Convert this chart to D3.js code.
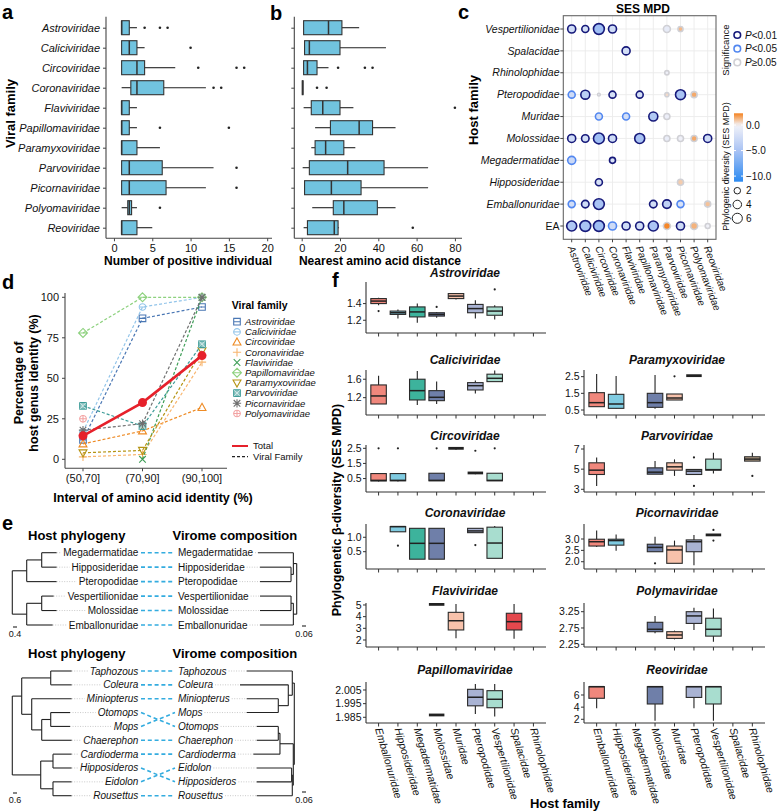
<!DOCTYPE html>
<html>
<head>
<meta charset="utf-8">
<script src="https://cdn.jsdelivr.net/npm/d3@7"></script>
<style>
html,body{margin:0;padding:0;background:#fff;}
svg{display:block;font-family:"Liberation Sans",Arial,Helvetica,sans-serif;}
</style>
</head>
<body>
<svg id="fig" width="778" height="811"></svg>
<script>
// ======================= DATA =======================
const viralFamilies=["Astroviridae","Caliciviridae","Circoviridae","Coronaviridae","Flaviviridae","Papillomaviridae","Paramyxoviridae","Parvoviridae","Picornaviridae","Polyomaviridae","Reoviridae"];

// panel a : [q1, median, q3, lower whisker, upper whisker]
const positiveBoxes=[[1,1,2,1,3],[1,2,3,1,4],[1,3,4,1,8],[2.2,3,6.5,1,12],[1,1,2,1,3],[1,1,2,1,3],[1,1,3,1,6],[1,2,6.3,1,13],[1,2,6.8,1,12],[1.8,2,2.3,1,3],[1,1,3,1,5]];
const positiveOutliers=[[4,6,7],[10],[11,16,17],[13,14],[],[6,15],[],[16],[16],[6],[]];
const positiveTicks=[0,5,10,15,20];

// panel b
const distanceBoxes=[[1,14,21,1,30],[1.5,4,20,1.5,44],[1,3,8,1,14],[0.3,0.5,0.7,0.3,0.7],[5,11,20,1,27],[15,30,37,7,49],[7,12.5,22,5,28],[4,24,43,0.5,66],[1.5,15.5,31,1.5,66],[16.5,22,39.5,5.5,49],[3,17,19,1,19.5]];
const distanceOutliers=[[],[],[19,33,37],[8,13],[80],[],[],[],[],[],[58]];
const distanceTicks=[0,20,40,60,80];

// panel c : [host, virus, SES MPD, significance (0:P<0.01, 1:P<0.05, 2:P>=0.05), size]
const hostRows=["Vespertilionidae","Spalacidae","Rhinolophidae","Pteropodidae","Muridae","Molossidae","Megadermatidae","Hipposideridae","Emballonuridae","EA"];
const sesPoints=[
 ["Vespertilionidae","Astroviridae",-2.5,0,3.4],["Vespertilionidae","Caliciviridae",-2.0,0,2.4],["Vespertilionidae","Circoviridae",-5.5,0,7],["Vespertilionidae","Coronaviridae",-2.5,0,3.4],["Vespertilionidae","Parvoviridae",-0.8,2,2.4],["Vespertilionidae","Picornaviridae",1.2,2,1.0],
 ["Spalacidae","Flaviviridae",-2.2,0,3.4],
 ["Rhinolophidae","Parvoviridae",-0.3,2,0.6],
 ["Pteropodidae","Astroviridae",-2.5,1,2.4],["Pteropodidae","Caliciviridae",-3.8,0,4.5],["Pteropodidae","Circoviridae",-0.2,2,0.1],["Pteropodidae","Coronaviridae",-2.0,0,2.4],["Pteropodidae","Papillomaviridae",-2.0,0,2.4],["Pteropodidae","Parvoviridae",0.5,2,0.5],["Pteropodidae","Picornaviridae",-5.0,0,5.8],["Pteropodidae","Polyomaviridae",1.5,2,1.6],
 ["Muridae","Circoviridae",-2.2,1,2.4],["Muridae","Flaviviridae",-2.2,1,2.4],["Muridae","Paramyxoviridae",-4.5,0,4.5],["Muridae","Parvoviridae",-0.5,2,1.6],
 ["Molossidae","Astroviridae",-2.5,0,3.4],["Molossidae","Caliciviridae",-2.2,0,2.9],["Molossidae","Circoviridae",-5.5,0,7],["Molossidae","Coronaviridae",-2.5,0,3.4],["Molossidae","Papillomaviridae",-5.0,0,5.8],["Molossidae","Parvoviridae",-0.6,2,1.6],["Molossidae","Picornaviridae",-0.3,2,1.6],["Molossidae","Polyomaviridae",1.5,2,1.6],["Molossidae","Reoviridae",-2.5,0,3.4],
 ["Megadermatidae","Astroviridae",-2.8,1,3.4],["Megadermatidae","Coronaviridae",-1.8,0,1.6],
 ["Hipposideridae","Circoviridae",-2.0,0,2.4],["Hipposideridae","Picornaviridae",0.8,2,1.6],
 ["Emballonuridae","Astroviridae",-2.3,1,2.4],["Emballonuridae","Caliciviridae",-2.5,0,2.9],["Emballonuridae","Circoviridae",-5.0,0,7],["Emballonuridae","Paramyxoviridae",-2.3,0,2.9],["Emballonuridae","Parvoviridae",-3.5,0,4.0],["Emballonuridae","Picornaviridae",-1.8,1,2.4],["Emballonuridae","Reoviridae",1.0,2,1.6],
 ["EA","Astroviridae",-4.5,0,5.8],["EA","Caliciviridae",-5.0,0,7],["EA","Circoviridae",-5.5,0,7],["EA","Coronaviridae",-2.5,1,3.4],["EA","Flaviviridae",-2.5,0,3.4],["EA","Papillomaviridae",-2.3,0,3.4],["EA","Paramyxoviridae",-4.8,0,5.8],["EA","Parvoviridae",2.2,2,2.4],["EA","Picornaviridae",-2.5,0,3.4],["EA","Polyomaviridae",1.3,2,2.4],["EA","Reoviridae",-0.2,2,0.9]
];
const sigLabels=["<0.01","<0.05","\u22650.05"];
const sizeLegend=[2,4,6];
const sesTicks=[0,-5,-10];

// panel d
const intervals=["(50,70]","(70,90]","(90,100]"];
const dFamilies=viralFamilies.slice(0,10);
const hostGenusIdentity=[[12,87,94],[17,94,100],[9.5,17.5,32],[1.5,3,60],[null,0,100],[78,100,100],[4,5.5,67],[33,20.5,71],[18,22,100],[25,null,null]];
const totalIdentity=[14.5,35,64];
const dTicks=[0,25,50,75,100];

// panel e : trees (branch lengths in tree units)
const hostOrderFamilies=["Megadermatidae","Hipposideridae","Pteropodidae","Vespertilionidae","Molossidae","Emballonuridae"];
const viromeOrderFamilies=["Megadermatidae","Hipposideridae","Pteropodidae","Vespertilionidae","Molossidae","Emballonuridae"];
const hostOrderGenera=["Taphozous","Coleura","Miniopterus","Otomops","Mops","Chaerephon","Cardioderma","Hipposideros","Eidolon","Rousettus"];
const viromeOrderGenera=["Taphozous","Coleura","Miniopterus","Mops","Otomops","Chaerephon","Cardioderma","Eidolon","Hipposideros","Rousettus"];
const hostTreeFamilies={children:[
 {len:1.44,children:[{len:1.5,children:[{name:"Megadermatidae",len:1.5},{name:"Hipposideridae",len:1.5}]},{name:"Pteropodidae",len:3.0}]},
 {len:1.44,children:[{len:1.5,children:[{name:"Vespertilionidae",len:1.2},{name:"Molossidae",len:1.5}]},{name:"Emballonuridae",len:2.6}]}]};
const viromeTreeFamilies={children:[
 {len:0.05,children:[{name:"Megadermatidae",len:0.53},{len:0.035,children:[{name:"Hipposideridae",len:0.465},{name:"Pteropodidae",len:0.465}]}]},
 {len:0.05,children:[{len:0.035,children:[{name:"Vespertilionidae",len:0.465},{name:"Molossidae",len:0.465}]},{name:"Emballonuridae",len:0.5}]}]};
const hostTreeGenera={children:[
 {len:1.41,children:[
   {len:4.35,children:[{name:"Taphozous",len:3.15},{name:"Coleura",len:3.15}]},
   {len:1.5,children:[{name:"Miniopterus",len:6.0},{len:1.5,children:[{len:1.35,children:[{name:"Otomops",len:2.9},{name:"Mops",len:2.9}]},{name:"Chaerephon",len:4.5}]}]}]},
 {len:4.26,children:[
   {len:1.84,children:[{name:"Cardioderma",len:2.8},{name:"Hipposideros",len:2.8}]},
   {len:1.84,children:[{name:"Eidolon",len:2.8},{name:"Rousettus",len:2.8}]}]}]};
const viromeTreeGenera={children:[
 {len:0.03,children:[{name:"Taphozous",len:0.684},{len:0.06,children:[{name:"Coleura",len:0.724},{len:0.15,children:[{name:"Miniopterus",len:0.474},{name:"Mops",len:0.474}]}]}]},
 {len:0.015,children:[
   {len:0.2,children:[{len:0.025,children:[{name:"Otomops",len:0.324},{name:"Chaerephon",len:0.324}]},{name:"Cardioderma",len:0.4}]},
   {len:0.015,children:[{len:0.01,children:[{name:"Eidolon",len:0.525},{name:"Hipposideros",len:0.525}]},{name:"Rousettus",len:0.534}]}]}]};

// panel f : [host index, q1, median, q3, lower, upper, outliers]
const hostFamiliesF=["Emballonuridae","Hipposideridae","Megadermatidae","Molossidae","Muridae","Pteropodidae","Vespertilionidae","Spalacidae","Rhinolophidae"];
const hostColorsF=["#F0877C","#7FCBE1","#3DB39C","#6F7FA9","#F8C2AB","#A9B3D3","#A8DDCF","#E4484D","#BFA88D"];
const fAstro=[[0,1.40,1.43,1.46,1.38,1.47,[1.31]],[1,1.27,1.29,1.31,1.22,1.33,[]],[2,1.24,1.30,1.36,1.17,1.40,[]],[3,1.25,1.27,1.29,1.23,1.30,[1.36]],[4,1.46,1.49,1.52,1.45,1.52,[]],[5,1.29,1.34,1.39,1.22,1.44,[]],[6,1.26,1.31,1.36,1.21,1.38,[1.57]]];
const fCalici=[[0,1.063,1.237,1.476,1.063,1.678,[]],[2,1.15,1.352,1.6,1.04,1.78,[]],[3,1.135,1.208,1.352,1.063,1.548,[]],[5,1.367,1.46,1.526,1.29,1.57,[]],[6,1.548,1.62,1.709,1.548,1.787,[]]];
const fCirco=[[0,0.34,0.38,0.83,0.3,0.83,[2.5]],[1,0.35,0.38,0.83,0.3,0.83,[2.5]],[3,0.35,0.38,0.85,0.35,0.85,[2.5]],[4,2.5,2.5,2.5,2.4,2.5,[]],[5,0.87,0.87,0.87,0.78,0.87,[2.34]],[6,0.35,0.38,0.85,0.35,0.85,[2.5]]];
const fCorona=[[1,1.19,1.37,1.37,1.19,1.37,[0.71]],[2,0.24,0.79,1.31,0.24,1.31,[]],[3,0.24,0.79,1.31,0.24,1.31,[]],[5,1.16,1.22,1.31,1.16,1.31,[0.73]],[6,0.27,0.80,1.35,0.27,1.39,[]]];
const fFlavi=[[3,5.05,5.05,5.05,5.05,5.05,[]],[4,2.86,3.65,4.37,2.15,5.09,[]],[7,2.86,3.57,4.29,2.1,5.09,[]]];
const fPapilloma=[[3,1.9867,1.9867,1.9867,1.9867,1.9867,[]],[5,1.9934,1.9997,2.0055,1.9874,2.0094,[]],[6,1.992,1.9982,2.0045,1.9855,2.0094,[]]];
const fParamyxo=[[0,0.70,0.94,1.54,0.70,2.66,[]],[1,0.60,0.86,1.44,0.58,2.54,[]],[3,0.66,0.94,1.5,0.58,2.6,[]],[4,1.1,1.22,1.46,1.1,1.46,[2.52]],[5,2.56,2.56,2.56,2.56,2.56,[]]];
const fParvo=[[0,4.47,4.9,5.63,3.33,6.17,[]],[3,4.5,4.7,5.13,4.5,5.8,[]],[4,4.9,5.23,5.63,4.33,5.97,[]],[5,4.47,4.8,4.97,4.47,4.97,[6.17,3.33]],[6,4.9,4.95,6.0,4.57,6.63,[]],[8,5.8,6.0,6.23,5.8,6.63,[4.33]]];
const fPicorna=[[0,2.69,2.88,2.99,2.65,3.37,[]],[1,2.73,2.93,2.99,2.48,3.2,[]],[3,2.44,2.63,2.77,2.44,3.1,[1.93]],[4,1.93,2.52,2.69,1.93,2.93,[]],[5,2.44,2.88,2.96,1.85,3.18,[]],[6,3.18,3.18,3.18,3.18,3.18,[3.4,2.93]]];
const fPolyma=[[3,2.636,2.71,2.925,2.59,3.12,[]],[4,2.43,2.535,2.636,2.4,2.67,[]],[5,2.89,3.12,3.25,2.69,3.37,[]],[6,2.5,2.71,3.05,2.33,3.35,[]]];
const fReo=[[0,5.46,7.37,7.37,3.81,7.37,[]],[3,4.52,7.37,7.37,1.77,7.37,[]],[5,5.6,7.37,7.37,3.81,7.37,[]],[6,4.52,7.37,7.37,1.77,7.37,[]]];

// ======================= DRAWING =======================
const svg=d3.select("#fig");
const FONT='"Liberation Sans", Arial, Helvetica, sans-serif';
const INK="#222";
function ln(g,x1,y1,x2,y2,st,w){return g.append("line").attr("x1",x1).attr("y1",y1).attr("x2",x2).attr("y2",y2).attr("stroke",st||INK).attr("stroke-width",w||1);}
function tx(g,x,y,s,o){o=o||{};const t=g.append("text").attr("x",x).attr("y",y).text(s).attr("font-size",o.size||11).attr("fill",o.fill||"#111");
 if(o.anchor)t.attr("text-anchor",o.anchor); if(o.weight)t.attr("font-weight",o.weight); if(o.italic)t.attr("font-style","italic");
 if(o.rotate!=null)t.attr("transform",`rotate(${o.rotate},${x},${y})`); if(o.dy)t.attr("dy",o.dy); return t;}

// panel letters
[["a",2,19],["b",270,20],["c",458,19],["d",2,289],["e",2,530],["f",332,287]].forEach(([t,x,y])=>tx(svg,x,y,t,{size:20,weight:"bold",fill:"#000"}));

// ---------- a & b ----------
const BOXBLUE="#71C3DF";
function hBoxPanel(cfg){
  const g=svg.append("g");
  const x=d3.scaleLinear().domain(cfg.domain).range([cfg.x0,cfg.x1]);
  const y=d3.scalePoint().domain(viralFamilies).range([27.7,227.7]);
  ln(g,cfg.x0,16.7,cfg.x0,238.3,"#444",1.1);
  ln(g,cfg.x0,238.3,cfg.x1,238.3,"#444",1.1);
  const ya=g.append("g").attr("transform",`translate(${cfg.x0},0)`)
    .call(d3.axisLeft(y).tickSize(3).tickSizeOuter(0).tickPadding(3).tickFormat(cfg.labels?(d=>d):(()=>"")));
  ya.attr("font-family",FONT).attr("font-size",11).select(".domain").remove();
  ya.selectAll(".tick line").attr("stroke","#444");
  ya.selectAll("text").attr("font-style","italic").attr("fill","#111");
  const xa=g.append("g").attr("transform","translate(0,238.3)")
    .call(d3.axisBottom(x).tickValues(cfg.ticks).tickSize(3).tickSizeOuter(0).tickPadding(3));
  xa.attr("font-family",FONT).attr("font-size",11).select(".domain").remove();
  xa.selectAll(".tick line").attr("stroke","#444");
  xa.selectAll("text").attr("fill","#111");
  const h=14;
  cfg.boxes.forEach((b,i)=>{
    const cy=y(viralFamilies[i]); const [q1,med,q3,lo,hi]=b;
    ln(g,x(lo),cy,x(q1),cy,INK,1.1); ln(g,x(q3),cy,x(hi),cy,INK,1.1);
    g.append("rect").attr("x",x(q1)).attr("y",cy-h/2).attr("width",Math.max(0,x(q3)-x(q1))).attr("height",h)
      .attr("fill",BOXBLUE).attr("stroke","#333").attr("stroke-width",1.1);
    ln(g,x(med),cy-h/2,x(med),cy+h/2,"#333",1.5);
    cfg.outliers[i].forEach(o=>g.append("circle").attr("cx",x(o)).attr("cy",cy).attr("r",1.3).attr("fill","#222"));
  });
  tx(g,cfg.titleX,265,cfg.title,{size:12,weight:"bold",anchor:"middle",fill:"#000"});
}
hBoxPanel({x0:106,x1:272,domain:[-1.04,20.63],ticks:positiveTicks,boxes:positiveBoxes,outliers:positiveOutliers,labels:true,title:"Number of positive individual",titleX:188});
hBoxPanel({x0:294.3,x1:462,domain:[-3.86,83.7],ticks:distanceTicks,boxes:distanceBoxes,outliers:distanceOutliers,labels:false,title:"Nearest amino acid distance",titleX:380});
tx(svg,14.5,113.5,"Viral family",{size:13,weight:"bold",anchor:"middle",rotate:-90,fill:"#000"});

// ---------- c ----------
(function(){
  const g=svg.append("g");
  const cX=d3.scalePoint().domain(viralFamilies).range([571.7,707.7]);
  const cY=d3.scalePoint().domain(hostRows).range([29,226]);
  const sesColor=d3.scaleLinear().domain([2.3,0,-5,-11.1]).range(["#F5821F","#F3F3F8","#A9C3F4","#2C8AF1"]);
  const sizeScale=d3.scaleSqrt().domain([0,7]).range([0.8,5.4]);
  const sigStroke=["#16197A","#5287F0","#D0D0D5"];
  const L=563.3,R=716,T=15.7,B=239.3;
  viralFamilies.forEach(v=>ln(g,cX(v),T,cX(v),B,"#EBEBEB",0.9));
  hostRows.forEach(h=>ln(g,L,cY(h),R,cY(h),"#EBEBEB",0.9));
  g.append("rect").attr("x",L).attr("y",T).attr("width",R-L).attr("height",B-T).attr("fill","none").attr("stroke","#666").attr("stroke-width",1.1);
  hostRows.forEach(h=>{ln(g,L-3,cY(h),L,cY(h),"#444",1);
    tx(g,559.5,cY(h),h,{size:10.5,anchor:"end",italic:h!=="EA",dy:"0.35em"});});
  viralFamilies.forEach(v=>{ln(g,cX(v),B,cX(v),B+3,"#444",1);
    tx(g,cX(v)-4,247.5,v,{size:10,italic:true,rotate:69});});
  sesPoints.forEach(p=>{
    g.append("circle").attr("cx",cX(p[1])).attr("cy",cY(p[0])).attr("r",sizeScale(p[4]))
      .attr("fill",sesColor(p[2])).attr("stroke",sigStroke[p[3]]).attr("stroke-width",1.6);
  });
  tx(g,643,13,"SES MPD",{size:12,weight:"bold",anchor:"middle",fill:"#000"});
  tx(g,477.5,110,"Host family",{size:13,weight:"bold",anchor:"middle",rotate:-90,fill:"#000"});
  // significance legend
  tx(g,729,50,"Significance",{size:9.5,anchor:"middle",rotate:-90});
  sigLabels.forEach((s,i)=>{
    const yy=35+i*13.7;
    g.append("circle").attr("cx",737.3).attr("cy",yy).attr("r",3.3).attr("fill","#fff").attr("stroke",sigStroke[i]).attr("stroke-width",1.6);
    const t=g.append("text").attr("x",745).attr("y",yy).attr("dy","0.35em").attr("font-size",10).attr("fill","#111");
    t.append("tspan").attr("font-style","italic").text("P"); t.append("tspan").text(s);
  });
  // colour bar
  const defs=svg.append("defs");
  const grad=defs.append("linearGradient").attr("id","sesgrad").attr("x1",0).attr("y1",0).attr("x2",0).attr("y2",1);
  d3.range(0,1.0001,0.05).forEach(t=>{const v=2.3+(-11.1-2.3)*t;grad.append("stop").attr("offset",t).attr("stop-color",sesColor(v));});
  const cbY=d3.scaleLinear().domain([2.3,-11.1]).range([113.3,181.7]);
  g.append("rect").attr("x",734).attr("y",113.3).attr("width",9).attr("height",181.7-113.3).attr("fill","url(#sesgrad)");
  sesTicks.forEach(v=>{ln(g,734,cbY(v),736,cbY(v),"#fff",1);ln(g,741,cbY(v),743,cbY(v),"#fff",1);
    tx(g,746,cbY(v),v===0?"0.0":"\u2212"+Math.abs(v).toFixed(1),{size:10,dy:"0.35em"});});
  tx(g,729,166.5,"Phylogenic diversity (SES MPD)",{size:9,anchor:"middle",rotate:-90});
  sizeLegend.forEach((s,i)=>{const yy=190.7+i*13.8;
    g.append("circle").attr("cx",737.3).attr("cy",yy).attr("r",sizeScale(s)).attr("fill","#fff").attr("stroke","#222").attr("stroke-width",1);
    tx(g,746,yy,String(s),{size:10,dy:"0.35em"});});
})();

// ---------- d ----------
(function(){
  const g=svg.append("g");
  const dX=d3.scalePoint().domain(intervals).range([63,222]).padding(0.336);
  const dY=d3.scaleLinear().domain([0,100]).range([459.3,297.3]);
  const colors=["#4A77B4","#93C5EA","#EE8B25","#F8B56E","#3E9E57","#8DD17E","#B59414","#3C9B97","#707070","#F3A3A3"];
  const types=["squareH","circleH","triangle","plus","cross","diamondH","triangleDown","squareX","asterisk","circlePlus"];
  ln(g,65,293,65,468.3,"#444",1.1); ln(g,65,468.3,227,468.3,"#444",1.1);
  dTicks.forEach(v=>{ln(g,62,dY(v),65,dY(v),"#444",1);tx(g,59,dY(v),String(v),{size:11,anchor:"end",dy:"0.35em"});});
  intervals.forEach(v=>{ln(g,dX(v),468.3,dX(v),471.3,"#444",1);tx(g,dX(v),474.5,v,{size:11,anchor:"middle",dy:"0.71em"});});
  tx(g,153,502,"Interval of amino acid identity (%)",{size:12.5,weight:"bold",anchor:"middle",fill:"#000"});
  tx(g,22.5,383,"Percentage of",{size:12.5,weight:"bold",anchor:"middle",rotate:-90,fill:"#000"});
  tx(g,37.5,383,"host genus identity (%)",{size:12.5,weight:"bold",anchor:"middle",rotate:-90,fill:"#000"});
  function marker(gg,type,x,y,c){
    const s=3.3;const m=gg.append("g").attr("transform",`translate(${x},${y})`).attr("stroke",c).attr("fill","none").attr("stroke-width",1.1);
    const P=d=>m.append("path").attr("d",d);
    switch(type){
      case "squareH":P(`M${-s},${-s}H${s}V${s}H${-s}Z M${-s},0H${s}`);break;
      case "circleH":m.append("circle").attr("r",s);P(`M${-s},0H${s}`);break;
      case "triangle":P(`M0,${-s*1.25}L${s*1.2},${s*0.9}L${-s*1.2},${s*0.9}Z`);break;
      case "plus":P(`M${-s*1.25},0H${s*1.25}M0,${-s*1.25}V${s*1.25}`);break;
      case "cross":P(`M${-s},${-s}L${s},${s}M${-s},${s}L${s},${-s}`);break;
      case "diamondH":P(`M0,${-s*1.35}L${s*1.35},0L0,${s*1.35}L${-s*1.35},0Z M${-s*1.35},0H${s*1.35}`);break;
      case "triangleDown":P(`M0,${s*1.25}L${s*1.2},${-s*0.9}L${-s*1.2},${-s*0.9}Z`);break;
      case "squareX":m.append("rect").attr("x",-s).attr("y",-s).attr("width",2*s).attr("height",2*s).attr("fill",c).attr("fill-opacity",0.55);P(`M${-s},${-s}L${s},${s}M${-s},${s}L${s},${-s}`).attr("stroke","#fff").attr("stroke-width",0.6);break;
      case "asterisk":P(`M${-s*1.25},0H${s*1.25}M0,${-s*1.25}V${s*1.25}M${-s},${-s}L${s},${s}M${-s},${s}L${s},${-s}`);break;
      case "circlePlus":m.append("circle").attr("r",s);P(`M${-s},0H${s}M0,${-s}V${s}`);break;
    }
  }
  const line=d3.line().defined(d=>d[1]!=null).x(d=>dX(d[0])).y(d=>dY(d[1]));
  dFamilies.forEach((f,i)=>{
    const pts=intervals.map((iv,j)=>[iv,hostGenusIdentity[i][j]]);
    g.append("path").attr("d",line(pts)).attr("fill","none").attr("stroke",colors[i]).attr("stroke-width",1.2).attr("stroke-dasharray","3,2");
    pts.filter(p=>p[1]!=null).forEach(p=>marker(g,types[i],dX(p[0]),dY(p[1]),colors[i]));
  });
  const tp=intervals.map((iv,j)=>[iv,totalIdentity[j]]);
  g.append("path").attr("d",line(tp)).attr("fill","none").attr("stroke","#E6212B").attr("stroke-width",2.6);
  tp.forEach(p=>g.append("circle").attr("cx",dX(p[0])).attr("cy",dY(p[1])).attr("r",4.5).attr("fill","#E6212B"));
  // legend
  tx(g,231.7,309,"Viral family",{size:10.5,weight:"bold",fill:"#000"});
  dFamilies.forEach((f,i)=>{const yy=321.7+i*10.2;marker(g,types[i],237,yy,colors[i]);tx(g,245,yy,f,{size:9.5,italic:true,dy:"0.35em"});});
  ln(g,232,446,248,446,"#E6212B",2); tx(g,253,446,"Total",{size:9.5,dy:"0.35em"});
  ln(g,232,456.7,248,456.7,"#222",1.3).attr("stroke-dasharray","3,2"); tx(g,253,456.7,"Viral Family",{size:9.5,dy:"0.35em"});
})();

// ---------- e ----------
function drawTree(g,data,yScale,xScale,labelX,side,italic){
  const root=d3.hierarchy(data);
  root.each(n=>{n.dist=n.parent?n.parent.dist+(n.data.len||0):0;});
  root.eachAfter(n=>{n.yy=n.children?(n.children[0].yy+n.children[n.children.length-1].yy)/2:yScale(n.data.name);});
  root.each(n=>{n.xx=xScale(n.dist);});
  root.descendants().forEach(n=>{
    if(n.parent) ln(g,n.parent.xx,n.yy,n.xx,n.yy,"#222",1.1);
    if(n.children) ln(g,n.xx,n.children[0].yy,n.xx,n.children[n.children.length-1].yy,"#222",1.1);
  });
  root.leaves().forEach(n=>{
    const t=tx(g,labelX,n.yy,n.data.name,{size:10,italic:italic,anchor:side==="left"?"end":"start",dy:"0.35em",fill:"#111"});
    const w=t.node().getComputedTextLength();
    if(side==="left"){const e=labelX-w-2; if(e>n.xx+1) ln(g,n.xx,n.yy,e,n.yy,"#BBB",0.8).attr("stroke-dasharray","1,1.5");}
    else{const s=labelX+w+2; if(s<n.xx-1) ln(g,s,n.yy,n.xx,n.yy,"#BBB",0.8).attr("stroke-dasharray","1,1.5");}
  });
}
function treePair(cfg){
  const g=svg.append("g");
  const yL=d3.scalePoint().domain(cfg.hostOrder).range(cfg.yRange);
  const yR=d3.scalePoint().domain(cfg.viromeOrder).range(cfg.yRange);
  tx(g,28,cfg.titleY,"Host phylogeny",{size:13,weight:"bold",fill:"#000"});
  tx(g,172.5,cfg.titleY,"Virome composition",{size:13,weight:"bold",fill:"#000"});
  drawTree(g,cfg.hostTree,yL,d3.scaleLinear().domain([0,1]).range([12.3,12.3+cfg.hostUnit]),138.3,"left",cfg.italic);
  drawTree(g,cfg.viromeTree,yR,d3.scaleLinear().domain([0,1]).range([cfg.vRoot,cfg.vRoot-66.7]),178,"right",cfg.italic);
  cfg.hostOrder.forEach(nm=>{
    g.append("path").attr("d",`M141,${yL(nm)}L175,${yR(nm)}`).attr("fill","none").attr("stroke","#33ACDF").attr("stroke-width",1.6).attr("stroke-dasharray","4,2.8");
  });
  // scale bars
  const hb=cfg.hostBar*cfg.hostUnit;
  ln(g,13,cfg.barY,13+hb,cfg.barY,"#222",1.1); tx(g,13+hb/2,cfg.barY+10,String(cfg.hostBar),{size:9,anchor:"middle"});
  const vb=0.06*66.7;
  ln(g,302,cfg.barY-1,302+vb,cfg.barY-1,"#222",1.1); tx(g,302+vb/2,cfg.barY+9.5,"0.06",{size:9,anchor:"middle"});
}
treePair({hostOrder:hostOrderFamilies,viromeOrder:viromeOrderFamilies,yRange:[552.7,625],titleY:539.5,hostTree:hostTreeFamilies,viromeTree:viromeTreeFamilies,hostUnit:10,vRoot:296.7,italic:false,hostBar:0.4,barY:627});
treePair({hostOrder:hostOrderGenera,viromeOrder:viromeOrderGenera,yRange:[671,795.7],titleY:657.5,hostTree:hostTreeGenera,viromeTree:viromeTreeGenera,hostUnit:6.67,vRoot:294.3,italic:true,hostBar:0.6,barY:793});

// ---------- f ----------
(function(){
  const g=svg.append("g");
  const panels=[
    {name:"Astroviridae",col:0,row:0,data:fAstro,domain:[1.047,1.659],ticks:[1.2,1.4],fmt:".1f"},
    {name:"Caliciviridae",col:0,row:1,data:fCalici,domain:[0.824,1.80],ticks:[1.2,1.6],fmt:".1f"},
    {name:"Paramyxoviridae",col:1,row:1,data:fParamyxo,domain:[0.20,2.90],ticks:[0.5,1.5,2.5],fmt:".1f"},
    {name:"Circoviridae",col:0,row:2,data:fCirco,domain:[-0.39,2.72],ticks:[0.5,1.5,2.5],fmt:".1f"},
    {name:"Parvoviridae",col:1,row:2,data:fParvo,domain:[2.73,7.4],ticks:[3,5,7],fmt:"d"},
    {name:"Coronaviridae",col:0,row:3,data:fCorona,domain:[-0.10,1.46],ticks:[0.5,1.0],fmt:".1f"},
    {name:"Picornaviridae",col:1,row:3,data:fPicorna,domain:[1.68,3.66],ticks:[2.0,2.5,3.0],fmt:".1f"},
    {name:"Flaviviridae",col:0,row:4,data:fFlavi,domain:[1.4,5.17],ticks:[2,3,4,5],fmt:"d"},
    {name:"Polymaviridae",col:1,row:4,data:fPolyma,domain:[2.166,3.517],ticks:[2.25,2.75,3.25],fmt:".2f"},
    {name:"Papillomaviridae",col:0,row:5,data:fPapilloma,domain:[1.98082,2.01086],ticks:[1.985,1.995,2.005],fmt:".3f"},
    {name:"Reoviridae",col:1,row:5,data:fReo,domain:[1.39,8.14],ticks:[2,4,6],fmt:"d"}
  ];
  const rowTop=[282,370,445,524,603,682], rowBottom=[333,415,492,569,647,723], rowTitle=[277,363.5,440,517,595,673.5];
  const colL=[366,584], colR=[546,765], colTitle=[465,677];
  panels.forEach(p=>{
    const L=colL[p.col],R=colR[p.col],T=rowTop[p.row],B=rowBottom[p.row];
    const x=d3.scalePoint().domain(hostFamiliesF).range([L,R]).padding(0.65);
    const y=d3.scaleLinear().domain(p.domain).range([B,T]);
    ln(g,L,T,L,B,"#333",1.1); ln(g,L,B,R,B,"#333",1.1);
    const f=d3.format(p.fmt);
    p.ticks.forEach(v=>{ln(g,L-3,y(v),L,y(v),"#333",1);tx(g,L-4.5,y(v),f(v),{size:10.5,anchor:"end",dy:"0.35em"});});
    hostFamiliesF.forEach(h=>ln(g,x(h),B,x(h),B+3.5,"#333",1));
    const bw=15.5;
    p.data.forEach(d=>{
      const [hi_,q1,med,q3,lo,hi,outs]=d; const cx=x(hostFamiliesF[hi_]);
      ln(g,cx,y(hi),cx,y(q3),"#222",1.1); ln(g,cx,y(q1),cx,y(lo),"#222",1.1);
      g.append("rect").attr("x",cx-bw/2).attr("y",y(q3)).attr("width",bw).attr("height",Math.max(0,y(q1)-y(q3)))
        .attr("fill",hostColorsF[hi_]).attr("stroke","#2a2a2a").attr("stroke-width",1.1);
      ln(g,cx-bw/2,y(med),cx+bw/2,y(med),"#222",q1===q3?2.8:1.5);
      outs.forEach(o=>g.append("circle").attr("cx",cx).attr("cy",y(o)).attr("r",1.1).attr("fill","#222"));
    });
    tx(g,colTitle[p.col],rowTitle[p.row],p.name,{size:12,weight:"bold",italic:true,anchor:"middle",fill:"#111"});
    if(p.row===5){
      hostFamiliesF.forEach(h=>tx(g,x(h)-3.5,729,h,{size:10.5,italic:true,rotate:74}));
    }
  });
  tx(g,341,510,"Phylogenetic \u03B2-diversity (SES MPD)",{size:12.5,weight:"bold",anchor:"middle",rotate:-90,fill:"#000"});
  tx(g,565,808,"Host family",{size:13,weight:"bold",anchor:"middle",fill:"#000"});
})();
</script>
</body>
</html>
